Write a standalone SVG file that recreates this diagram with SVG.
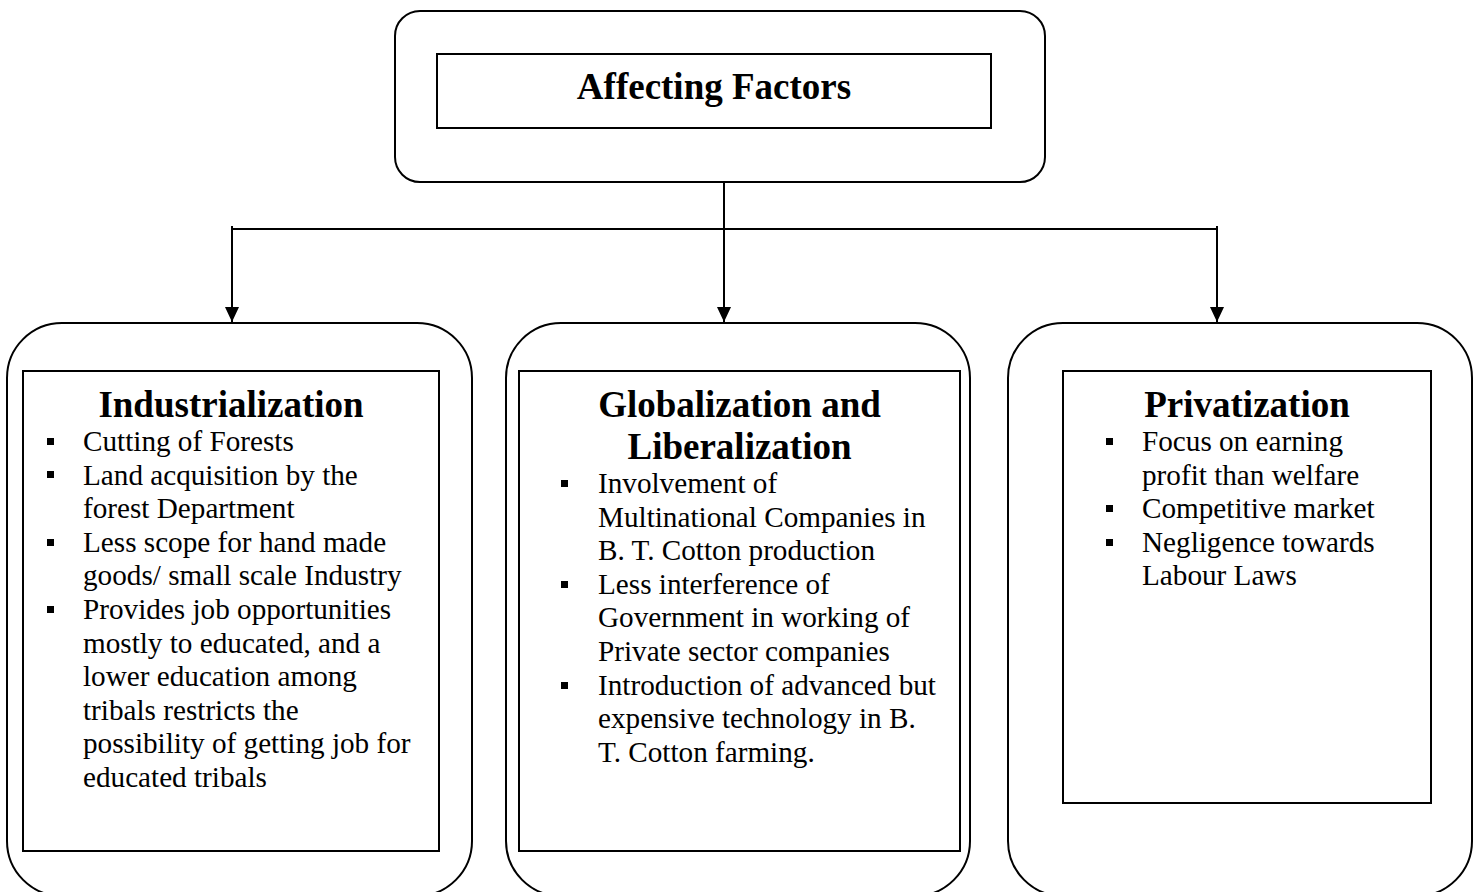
<svg xmlns="http://www.w3.org/2000/svg" width="1480" height="892" viewBox="0 0 1480 892">
<style>
.outer{fill:#fff;stroke:#000;stroke-width:2}
.inner{fill:#fff;stroke:#000;stroke-width:2}
.conn{fill:none;stroke:#000;stroke-width:2}
.head{font-family:"Liberation Serif","Times New Roman",serif;font-weight:bold;font-size:37px;fill:#000;text-anchor:middle}
.body{font-family:"Liberation Serif","Times New Roman",serif;font-size:29.2px;fill:#000}
.bul{fill:#000}
</style>
<defs>
<marker id="arr" markerUnits="userSpaceOnUse" markerWidth="14" markerHeight="14" refX="15" refY="7" orient="auto">
<path d="M0,0 L15,7 L0,14 z" fill="#000"/>
</marker>
</defs>

<g id="connectors">
<path class="conn" d="M724,181 V322" marker-end="url(#arr)"/>
<path class="conn" d="M232,229 H1217"/>
<path class="conn" d="M232,226 V322" marker-end="url(#arr)"/>
<path class="conn" d="M1217,226 V322" marker-end="url(#arr)"/>
</g>

<g id="affecting-factors">
<rect class="outer" x="395" y="11" width="650" height="171" rx="25" ry="25"/>
<rect class="inner" x="437" y="54" width="554" height="74"/>
<text class="head" x="714" y="99">Affecting Factors</text>
</g>

<g id="industrialization">
<rect class="outer" x="7" y="323" width="465" height="573" rx="55" ry="55"/>
<rect class="inner" x="23" y="371" width="416" height="480"/>
<text class="head" x="231" y="417">Industrialization</text>
<rect class="bul" x="47" y="438" width="7" height="7"/>
<rect class="bul" x="47" y="471" width="7" height="7"/>
<rect class="bul" x="47" y="539" width="7" height="7"/>
<rect class="bul" x="47" y="606" width="7" height="7"/>
<text class="body" x="83" y="451">Cutting of Forests</text>
<text class="body" x="83" y="484.6">Land acquisition by the</text>
<text class="body" x="83" y="518.2">forest Department</text>
<text class="body" x="83" y="551.8">Less scope for hand made</text>
<text class="body" x="83" y="585.4">goods/ small scale Industry</text>
<text class="body" x="83" y="619">Provides job opportunities</text>
<text class="body" x="83" y="652.6">mostly to educated, and a</text>
<text class="body" x="83" y="686.2">lower education among</text>
<text class="body" x="83" y="719.8">tribals restricts the</text>
<text class="body" x="83" y="753.4">possibility of getting job for</text>
<text class="body" x="83" y="787">educated tribals</text>
</g>

<g id="globalization">
<rect class="outer" x="506" y="323" width="464" height="573" rx="55" ry="55"/>
<rect class="inner" x="519" y="371" width="441" height="480"/>
<text class="head" x="739.5" y="417">Globalization and</text>
<text class="head" x="739.5" y="459">Liberalization</text>
<rect class="bul" x="561" y="480" width="7" height="7"/>
<rect class="bul" x="561" y="581" width="7" height="7"/>
<rect class="bul" x="561" y="682" width="7" height="7"/>
<text class="body" x="598" y="493">Involvement of</text>
<text class="body" x="598" y="526.6">Multinational Companies in</text>
<text class="body" x="598" y="560.2">B. T. Cotton production</text>
<text class="body" x="598" y="593.8">Less interference of</text>
<text class="body" x="598" y="627.4">Government in working of</text>
<text class="body" x="598" y="661">Private sector companies</text>
<text class="body" x="598" y="694.6">Introduction of advanced but</text>
<text class="body" x="598" y="728.2">expensive technology in B.</text>
<text class="body" x="598" y="761.8">T. Cotton farming.</text>
</g>

<g id="privatization">
<rect class="outer" x="1008" y="323" width="464" height="573" rx="55" ry="55"/>
<rect class="inner" x="1063" y="371" width="368" height="432"/>
<text class="head" x="1247" y="417">Privatization</text>
<rect class="bul" x="1106" y="438" width="7" height="7"/>
<rect class="bul" x="1106" y="505" width="7" height="7"/>
<rect class="bul" x="1106" y="539" width="7" height="7"/>
<text class="body" x="1142" y="451">Focus on earning</text>
<text class="body" x="1142" y="484.6">profit than welfare</text>
<text class="body" x="1142" y="518.2">Competitive market</text>
<text class="body" x="1142" y="551.8">Negligence towards</text>
<text class="body" x="1142" y="585.4">Labour Laws</text>
</g>
</svg>
